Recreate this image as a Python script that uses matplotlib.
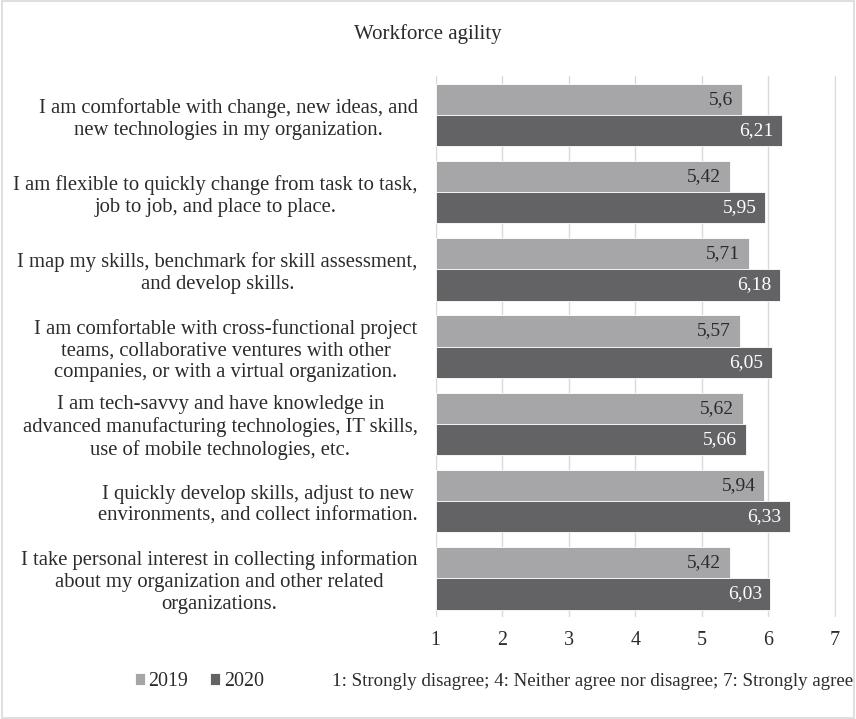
import numpy as np
import matplotlib.pyplot as plt
from matplotlib.patches import Rectangle

plt.rcParams['font.family'] = ['Liberation Serif', 'DejaVu Serif']

categories = [
    "I am comfortable with change, new ideas, and\nnew technologies in my organization.",
    "I am flexible to quickly change from task to task,\njob to job, and place to place.",
    "I map my skills, benchmark for skill assessment,\nand develop skills.",
    "I am comfortable with cross-functional project\nteams, collaborative ventures with other\ncompanies, or with a virtual organization.",
    "I am tech-savvy and have knowledge in\nadvanced manufacturing technologies, IT skills,\nuse of mobile technologies, etc.",
    "I quickly develop skills, adjust to new\nenvironments, and collect information.",
    "I take personal interest in collecting information\nabout my organization and other related\norganizations.",
]
vals_2019 = [5.6, 5.42, 5.71, 5.57, 5.62, 5.94, 5.42]
vals_2020 = [6.21, 5.95, 6.18, 6.05, 5.66, 6.33, 6.03]
xticks = [1, 2, 3, 4, 5, 6, 7]

c2019 = '#a6a6a8'
c2020 = '#636365'
txt = '#2b2b2b'

fig = plt.figure(figsize=(8.56, 7.19), dpi=100)
ax = fig.add_axes([0.509, 0.142, 0.468, 0.752])

y = np.arange(len(categories))
h = 0.405
b1 = ax.barh(y - h / 2, np.array(vals_2019) - 1, left=1, height=h, color=c2019,
             edgecolor='white', linewidth=0.6, label='2019', zorder=2)
b2 = ax.barh(y + h / 2, np.array(vals_2020) - 1, left=1, height=h, color=c2020,
             edgecolor='white', linewidth=0.6, label='2020', zorder=2)

# value labels sit inside the bar ends
for v, yy in zip(vals_2019, y - h / 2):
    ax.text(v - 0.13, yy, f"{v:g}".replace('.', ','), ha='right', va='center',
            fontsize=14, color=txt, zorder=3)
for v, yy in zip(vals_2020, y + h / 2):
    ax.text(v - 0.13, yy, f"{v:g}".replace('.', ','), ha='right', va='center',
            fontsize=14, color='white', zorder=3)

ax.set_xlim(1, 7.02)
ax.set_ylim(len(categories) - 0.5, -0.5)
ax.set_xticks(xticks)
ax.set_xticklabels([str(t) for t in xticks], fontsize=14.4, color=txt)
ax.tick_params(axis='x', length=0, pad=10)
ax.set_yticks(y)
ax.set_yticklabels(categories, fontsize=14.9, color=txt, linespacing=1.2,
                   ha='right', multialignment='center')
ax.tick_params(axis='y', length=0, pad=13)
ax.grid(axis='x', color='#d9d9d9', linewidth=1, zorder=0)
for s in ax.spines.values():
    s.set_visible(False)

fig.text(0.5, 0.952, "Workforce agility", ha='center', va='center', fontsize=15,
         color=txt)

leg = fig.legend(handles=[b1, b2], loc='center', bbox_to_anchor=(0.233, 0.052),
                 ncol=2, frameon=False, fontsize=14.4, handlelength=0.5,
                 handleheight=0.5, handletextpad=0.2, columnspacing=1.1)
for t in leg.get_texts():
    t.set_color(txt)
fig.text(0.388, 0.052, "1: Strongly disagree; 4: Neither agree nor disagree; 7: Strongly agree",
         ha='left', va='center', fontsize=13.6, color=txt)

fig.patches.append(Rectangle((0.002, 0.002), 0.996, 0.996, transform=fig.transFigure,
                             fill=False, edgecolor='#d9d9d9', linewidth=1.2))

fig.savefig('out.png', dpi=100)
